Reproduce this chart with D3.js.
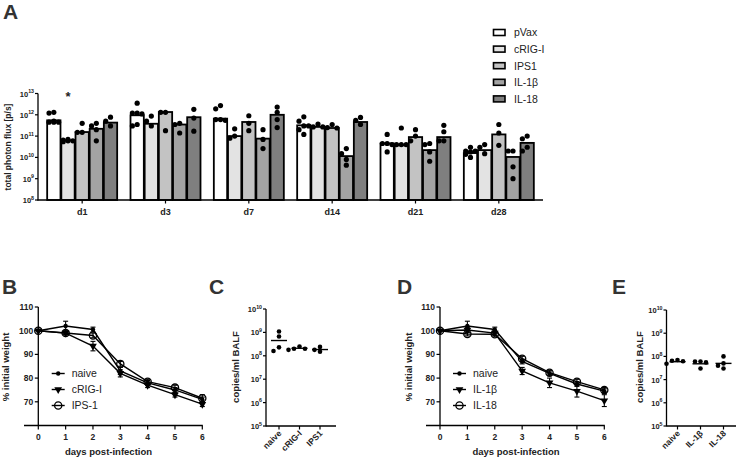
<!DOCTYPE html>
<html><head><meta charset="utf-8">
<script src="https://cdn.jsdelivr.net/npm/d3@7"></script>
<style>body{margin:0;background:#fff} svg{font-family:"Liberation Sans",Arial,sans-serif}</style>
</head><body><svg id="c" width="737" height="457"></svg>
<script>
// ---------- Panel A data ----------
const days = ["d1","d3","d7","d14","d21","d28"];
const groups = ["pVax","cRIG-I","IPS1","IL-1β","IL-18"];
const groupColors = ["#ffffff","#e3e3e3","#c3c3c3","#a3a3a3","#7f7f7f"];
const barPVax = [5.5e11, 9.5e11, 6.6e11, 3.2e11, 4.5e10, 1.6e10];
const barCRIG = [6.3e10, 3.8e11, 1.0e11, 2.7e11, 3.7e10, 2.2e10];
const barIPS1 = [1.55e11, 1.35e12, 4.6e11, 2.4e11, 9e10, 1.2e11];
const barIL1b = [2.2e11, 3.5e11, 7.6e10, 1.15e10, 2.2e10, 1.05e10];
const barIL18 = [4.3e11, 7.7e11, 1.0e12, 4.6e11, 9e10, 4.8e10];
const ptsPVax = [[1.2e12,1.3e12,4.5e11,4.5e11,5e11,4.5e11],[3.5e12,1.2e12,1.2e12,1.1e12,3.5e11,3e11],[1.9e12,2.7e12,6e11,6e11,5.5e11],[8e11,5e11,3e11,3e11,1.2e11,2e11],[1.2e11,4.5e10,4.5e10,4e10,1.8e10],[3e10,2e10,1.4e10,1e10,2e10,1.8e10]];
const ptsCRIG = [[7e10,6e10,6.5e10,5.5e10,6e10],[5e11,8.7e11,3e11],[2.2e11,1e11,8e10],[3.7e11,2.7e11,2.7e11],[2.4e11,4e10,4e10,4e10],[3e10,4e10,1.5e10]];
const ptsIPS1 = [[4e11,1.5e11,1.5e11],[1.3e12,1.3e12,1.8e11],[9e11,4e11,1.8e11],[3.5e11,2.5e11,2.4e11],[2e11,1e11,6e10],[3.5e11,1.4e11,3.7e10]];
const ptsIL1b = [[3e11,4e11,2e11,6e10],[4e11,3.5e11,1.4e11],[2e11,7e10,2.6e10],[1.5e10,2.6e10,8e9,4.3e9],[4.5e10,4e10,1.8e10,6.6e9],[2e10,2e10,3.6e9,1e9]];
const ptsIL18 = [[7.7e11,5e11,3e11],[1.8e12,7e11,1.7e11],[2.3e12,1.3e12,6e11,2.5e11],[7.5e11,5.5e11,3.5e11],[3.2e11,1.6e11,6e10,6e10],[7.5e10,1e11,3e10,2e10]];
const logTicksA = [8,9,10,11,12,13];

// ---------- Panels B / D data ----------
const dpi = [0,1,2,3,4,5,6];
const wNaiveB = [100,102,100.5,83,78,75,71];
const wCRIG   = [100,99,93.5,82,77,73,69];
const wIPS1   = [100,99,98,86,78.5,76,71.5];
const eNaiveB = [0,2,1,1.5,1,1,1];
const eCRIG   = [0,0.8,2,1.5,1,1,1];
const eIPS1   = [0,0.6,1,1,1,1,1.5];
const wNaiveD = [100,102,100.5,87,82,77.5,74.5];
const wIL1b   = [100,100.3,99,83,78,74.5,70.5];
const wIL18   = [100,98.6,98.5,88.2,82.3,78.5,75];
const eNaiveD = [0,2,1,1,1,1,1];
const eIL1b   = [0,1,1,1.5,2,2.5,2.5];
const eIL18   = [0,0.8,0.8,1,1,1,1];
const weightTicks = [70,80,90,100,110];

// ---------- Panels C / E data ----------
const catC = ["naive","cRIG-I","IPS1"];
const ptsC = [[1.1e9,6.7e8,2.3e8,1.6e8],[2.5e8,1.8e8,2e8,2e8],[2.4e8,1.5e8,1.8e8]];
const meanC = [4.5e8,2.1e8,1.85e8];
const catE = ["naive","IL-1β","IL-18"];
const ptsE = [[7e7,6.5e7,6.2e7,4.8e7],[6e7,6e7,5.5e7,3e7],[1e8,5e7,4e7,3e7]];
const meanE = [5.9e7,4.8e7,5e7];
const logTicksCE = [5,6,7,8,9,10];

const svg = d3.select("#c");
const INK = "#000";

function logLabel(g, x, y, exp, size) {
  const t = g.append("text").attr("x", x).attr("y", y).attr("text-anchor","end")
    .attr("font-size", size).attr("font-weight","bold").attr("fill","#222");
  t.append("tspan").text("10");
  t.append("tspan").attr("dy", -size*0.45).attr("font-size", size*0.7).text(exp);
}
function panelLetter(x, y, s) {
  svg.append("text").attr("x", x).attr("y", y).attr("font-size", 21).attr("font-weight","bold")
    .attr("fill","#333").text(s);
}
function dodge(vals, yScale, r, step, maxOff) {
  const order = vals.map((v,i)=>i).sort((a,b)=>vals[b]-vals[a]);
  const placed = [];
  const out = new Array(vals.length);
  const offs = [0];
  for (let k=step; k<=maxOff+0.01; k+=step) { offs.push(-k, k); }
  order.forEach(i => {
    const y = yScale(vals[i]);
    let best = offs[0], bestC = Infinity;
    for (const o of offs) {
      let c = 0;
      placed.forEach(p => { const d = Math.hypot(p.x-o, p.y-y); if (d < 2*r) c += (2*r-d); });
      if (c < bestC - 1e-9) { bestC = c; best = o; }
      if (c === 0) break;
    }
    placed.push({x: best, y});
    out[i] = best;
  });
  return out;
}

// =================== Panel A ===================
panelLetter(3, 19, "A");
const xA = d3.scaleBand().domain(days).range([40.5, 540.5]);
const xSub = d3.scaleBand().domain(groups).range([-35, 35]).paddingInner(0.06);
const yA = d3.scaleLog().domain([1e8, 1e13]).range([200, 93.5]);
const gA = svg.append("g");
const barsAll = [barPVax, barCRIG, barIPS1, barIL1b, barIL18];
const ptsAll = [ptsPVax, ptsCRIG, ptsIPS1, ptsIL1b, ptsIL18];
days.forEach((d, di) => {
  const cx = xA(d) + xA.bandwidth()/2;
  groups.forEach((g, gi) => {
    const x0 = cx + xSub(g);
    const v = barsAll[gi][di];
    gA.append("rect").attr("x", x0).attr("y", yA(v)).attr("width", xSub.bandwidth())
      .attr("height", 200 - yA(v)).attr("fill", groupColors[gi]).attr("stroke", INK).attr("stroke-width", 1.8);
  });
});
days.forEach((d, di) => {
  const cx = xA(d) + xA.bandwidth()/2;
  groups.forEach((g, gi) => {
    const bx = cx + xSub(g) + xSub.bandwidth()/2;
    const vals = ptsAll[gi][di];
    const offs = dodge(vals, yA, 2.6, 4.8, 7);
    vals.forEach((v, i) => {
      gA.append("circle").attr("cx", bx + offs[i]).attr("cy", yA(v)).attr("r", 2.6).attr("fill", INK);
    });
  });
});
// axes A
gA.append("line").attr("x1", 38).attr("x2", 38).attr("y1", 93.5).attr("y2", 200.5).attr("stroke", INK).attr("stroke-width", 1.3);
gA.append("line").attr("x1", 37.5).attr("x2", 543).attr("y1", 200).attr("y2", 200).attr("stroke", INK).attr("stroke-width", 1.3);
logTicksA.forEach(e => {
  const y = yA(Math.pow(10, e));
  gA.append("line").attr("x1", 35).attr("x2", 38).attr("y1", y).attr("y2", y).attr("stroke", INK).attr("stroke-width", 1.2);
  logLabel(gA, 34, y + 3, e, 7.5);
});
days.forEach(d => {
  const cx = xA(d) + xA.bandwidth()/2;
  gA.append("line").attr("x1", cx).attr("x2", cx).attr("y1", 200).attr("y2", 203.5).attr("stroke", INK).attr("stroke-width", 1.2);
  gA.append("text").attr("x", cx).attr("y", 215).attr("text-anchor","middle").attr("font-size", 9)
    .attr("font-weight","bold").attr("fill","#222").text(d);
});
gA.append("text").attr("transform","translate(11,147) rotate(-90)").attr("text-anchor","middle")
  .attr("font-size", 8.5).attr("font-weight","bold").attr("fill","#222").text("total photon flux [p/s]");
gA.append("text").attr("x", 68).attr("y", 101).attr("text-anchor","middle").attr("font-size", 13)
  .attr("font-weight","bold").attr("fill","#222").text("*");
// legend A
groups.forEach((g, gi) => {
  const y = 32.5 + gi * 16.6;
  gA.append("rect").attr("x", 493.5).attr("y", y - 3).attr("width", 11.5).attr("height", 6)
    .attr("fill", groupColors[gi]).attr("stroke", INK).attr("stroke-width", 1.6);
  gA.append("text").attr("x", 514).attr("y", y + 3.8).attr("font-size", 10.5).attr("fill","#222").text(g);
});

// =================== Panels B / D ===================
function weightPanel(x0, x6, axisLeft, series, legendX, labelX, titleCx) {
  const g = svg.append("g");
  const x = d3.scaleLinear().domain([0, 6]).range([x0, x6]);
  const y = d3.scaleLinear().domain([60, 110]).range([425.5, 307]);
  g.append("line").attr("x1", x0).attr("x2", x0).attr("y1", 307).attr("y2", 425.5).attr("stroke", INK).attr("stroke-width", 1.3);
  g.append("line").attr("x1", axisLeft).attr("x2", x6 + 0.5).attr("y1", 425.5).attr("y2", 425.5).attr("stroke", INK).attr("stroke-width", 1.3);
  weightTicks.forEach(t => {
    g.append("line").attr("x1", x0 - 3.5).attr("x2", x0).attr("y1", y(t)).attr("y2", y(t)).attr("stroke", INK).attr("stroke-width", 1.2);
    g.append("text").attr("x", x0 - 5).attr("y", y(t) + 3).attr("text-anchor","end").attr("font-size", 8.5)
      .attr("font-weight","bold").attr("fill","#222").text(t);
  });
  dpi.forEach(t => {
    g.append("line").attr("x1", x(t)).attr("x2", x(t)).attr("y1", 425.5).attr("y2", 429.5).attr("stroke", INK).attr("stroke-width", 1.2);
    g.append("text").attr("x", x(t)).attr("y", 440).attr("text-anchor","middle").attr("font-size", 8.5)
      .attr("font-weight","bold").attr("fill","#222").text(t);
  });
  g.append("text").attr("x", titleCx).attr("y", 455).attr("text-anchor","middle").attr("font-size", 9.5)
    .attr("font-weight","bold").attr("fill","#222").text("days post-infection");
  g.append("text").attr("transform", `translate(${labelX},367) rotate(-90)`).attr("text-anchor","middle")
    .attr("font-size", 9.5).attr("font-weight","bold").attr("fill","#222").text("% initial weight");
  const line = d3.line().x((d,i) => x(dpi[i])).y(d => y(d));
  series.forEach(s => {
    g.append("path").attr("d", line(s.vals)).attr("fill","none").attr("stroke", INK).attr("stroke-width", 1.4);
    s.vals.forEach((v, i) => {
      if (s.err[i] > 0) {
        const xx = x(dpi[i]);
        g.append("line").attr("x1", xx).attr("x2", xx).attr("y1", y(v + s.err[i])).attr("y2", y(v - s.err[i])).attr("stroke", INK).attr("stroke-width", 1.1);
        [v + s.err[i], v - s.err[i]].forEach(e => g.append("line").attr("x1", xx - 2.5).attr("x2", xx + 2.5)
          .attr("y1", y(e)).attr("y2", y(e)).attr("stroke", INK).attr("stroke-width", 1.1));
      }
    });
  });
  function marker(gg, type, cx, cy) {
    if (type === "dot") gg.append("circle").attr("cx", cx).attr("cy", cy).attr("r", 2.2).attr("fill", INK);
    else if (type === "tri") gg.append("path").attr("d", d3.symbol(d3.symbolTriangle, 26)())
      .attr("transform", `translate(${cx},${cy}) rotate(180)`).attr("fill", INK);
    else gg.append("circle").attr("cx", cx).attr("cy", cy).attr("r", 3.6).attr("fill","none").attr("stroke", INK).attr("stroke-width", 1.3);
  }
  series.forEach(s => s.vals.forEach((v, i) => marker(g, s.type, x(dpi[i]), y(v))));
  series.forEach((s, k) => {
    const ly = 373.5 + k * 16;
    g.append("line").attr("x1", legendX).attr("x2", legendX + 13).attr("y1", ly).attr("y2", ly).attr("stroke", INK).attr("stroke-width", 1.4);
    marker(g, s.type, legendX + 6.5, ly);
    g.append("text").attr("x", legendX + 20).attr("y", ly + 3.8).attr("font-size", 10.5).attr("fill","#222").text(s.name);
  });
}
panelLetter(2, 294, "B");
weightPanel(38.3, 202.3, 24, [
  {name:"naive", vals:wNaiveB, err:eNaiveB, type:"dot"},
  {name:"cRIG-I", vals:wCRIG, err:eCRIG, type:"tri"},
  {name:"IPS-1", vals:wIPS1, err:eIPS1, type:"open"}], 51.7, 9, 108.5);
panelLetter(397, 294, "D");
weightPanel(440, 604.3, 426, [
  {name:"naive", vals:wNaiveD, err:eNaiveD, type:"dot"},
  {name:"IL-1β", vals:wIL1b, err:eIL1b, type:"tri"},
  {name:"IL-18", vals:wIL18, err:eIL18, type:"open"}], 453, 412, 516);

// =================== Panels C / E ===================
function copiesPanel(axisX, axisEnd, cats, pts, means, catRange, yTop, labelX) {
  const g = svg.append("g");
  const x = d3.scalePoint().domain(cats).range(catRange);
  const y = d3.scaleLog().domain([1e5, 1e10]).range([426, yTop]);
  g.append("line").attr("x1", axisX).attr("x2", axisX).attr("y1", yTop).attr("y2", 426.5).attr("stroke", INK).attr("stroke-width", 1.3);
  g.append("line").attr("x1", axisX).attr("x2", axisEnd).attr("y1", 426).attr("y2", 426).attr("stroke", INK).attr("stroke-width", 1.3);
  logTicksCE.forEach(e => {
    const yy = y(Math.pow(10, e));
    g.append("line").attr("x1", axisX - 3).attr("x2", axisX).attr("y1", yy).attr("y2", yy).attr("stroke", INK).attr("stroke-width", 1.2);
    logLabel(g, axisX - 4, yy + 3, e, 7.5);
  });
  cats.forEach((c, ci) => {
    const cx = x(c);
    g.append("line").attr("x1", cx).attr("x2", cx).attr("y1", 426).attr("y2", 429.5).attr("stroke", INK).attr("stroke-width", 1.2);
    g.append("text").attr("transform", `translate(${cx + 3},${434}) rotate(-45)`).attr("text-anchor","end")
      .attr("font-size", 8.5).attr("font-weight","bold").attr("fill","#222").text(c);
    const offs = dodge(pts[ci], y, 2.3, 5.5, 11);
    pts[ci].forEach((v, i) => g.append("circle").attr("cx", cx + offs[i]).attr("cy", y(v)).attr("r", 2.3).attr("fill", INK));
    g.append("line").attr("x1", cx - 8).attr("x2", cx + 8).attr("y1", y(means[ci])).attr("y2", y(means[ci])).attr("stroke", INK).attr("stroke-width", 1.4);
  });
  g.append("text").attr("transform", `translate(${labelX},367) rotate(-90)`).attr("text-anchor","middle")
    .attr("font-size", 9.5).attr("fill","#222").attr("font-weight","bold").text("copies/ml BALF");
}
panelLetter(209, 294, "C");
copiesPanel(266, 336, catC, ptsC, meanC, [279, 320], 309, 239);
panelLetter(612, 294, "E");
copiesPanel(666.5, 736, catE, ptsE, meanE, [677.5, 723.5], 310, 643);
</script></body></html>
